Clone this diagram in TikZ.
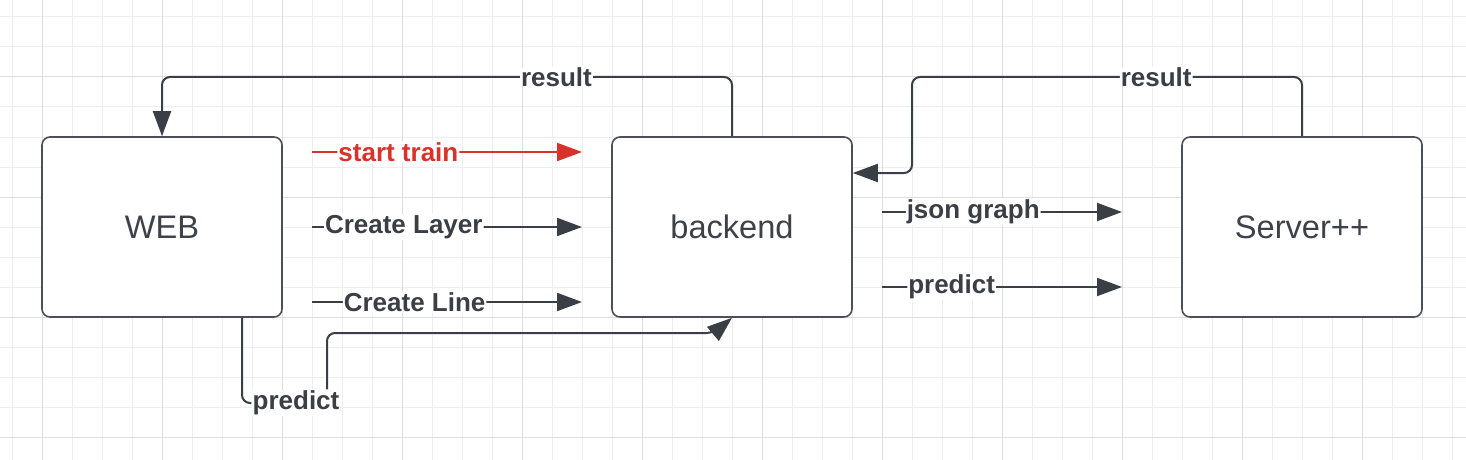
\documentclass[tikz,border=0pt]{standalone}
\usepackage{fontspec}
\setmainfont{Liberation Sans}
\usetikzlibrary{arrows.meta}
\definecolor{gridminor}{HTML}{EEEEEE}
\definecolor{gridmajor}{HTML}{DEDEDE}
\definecolor{edgegray}{HTML}{3A3F46}
\definecolor{boxgray}{HTML}{4B5058}
\definecolor{textgray}{HTML}{3D424A}
\definecolor{trainred}{HTML}{D9322A}
\begin{document}
\begin{tikzpicture}[x=0.5pt,y=-0.5pt,
  box/.style={draw=boxgray,line width=0.8pt,rounded corners=4pt,fill=white,minimum width=120pt,minimum height=90pt,text=textgray,font=\fontsize{16.3}{19}\selectfont},
  plainconn/.style={draw=edgegray,line width=1pt,rounded corners=4pt},
  conn/.style={plainconn,-{Triangle[length=12.5pt,width=9pt]}},
  lbl/.style={fill=white,inner sep=0.5pt,text=edgegray,font=\bfseries\fontsize{13}{15}\selectfont}]
\useasboundingbox (0,0) rectangle (1466,460);
\fill[white] (0,0) rectangle (1466,460);
\foreach \gx in {12,42,...,1452} \draw[gridminor,line width=0.5pt] (\gx,0) -- (\gx,460);
\foreach \gy in {17,47,...,457} \draw[gridminor,line width=0.5pt] (0,\gy) -- (1466,\gy);
\foreach \gx in {42,162,...,1422} \draw[gridmajor,line width=0.5pt] (\gx,0) -- (\gx,460);
\foreach \gy in {77,197,317,437} \draw[gridmajor,line width=0.5pt] (0,\gy) -- (1466,\gy);

\node[box] (web) at (162,227) {WEB};
\node[box] (backend) at (732,227) {backend};
\node[box] (server) at (1302,227) {Server++};

\coordinate (train0) at (312,152); \coordinate (train1) at (582,152);
\coordinate (layer0) at (312,227); \coordinate (layer1) at (582,227);
\coordinate (line0) at (312,302); \coordinate (line1) at (582,302);
\coordinate (json0) at (882,212); \coordinate (json1) at (1122,212);
\coordinate (pred0) at (882,287); \coordinate (pred1) at (1122,287);

\draw[conn,draw=trainred] (train0) -- node[lbl,text=trainred,pos=0.32] (trainlbl) {start train} (train1);
\draw[conn] (layer0) -- node[lbl,pos=0.34] (layerlbl) {Create Layer} (layer1);
\draw[conn] (line0) -- node[lbl,pos=0.38] (linelbl) {Create Line} (line1);
\draw[conn] (json0) -- node[lbl,pos=0.38] (jsonlbl) {json graph} (json1);
\draw[conn] (pred0) -- node[lbl,pos=0.29] (predrlbl) {predict} (pred1);

\draw[conn] (backend.north) |- node[lbl,pos=0.654] (res1) {result} (162,77) -- (web.north);
\draw[conn] (server.north) |- node[lbl,pos=0.687] (res2) {result} (912,77) |- (backend.east |- 0,173);

\node[lbl] (predlbl) at (296,403) {predict};
\draw[plainconn] (web.south -| 242,0) |- (predlbl.west);
\draw[conn] (predlbl.north -| 327,0) |- (714,333) -- (backend.south);
\end{tikzpicture}
\end{document}
